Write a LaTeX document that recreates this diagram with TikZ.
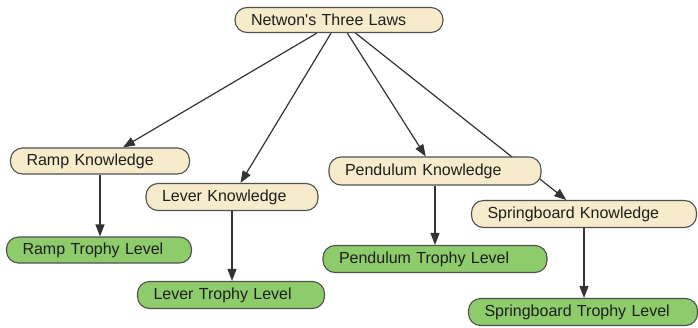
\documentclass[tikz,border=0pt]{standalone}
\usepackage{fontspec}
\setmainfont{Liberation Sans}
\usetikzlibrary{arrows.meta}
\pgfdeclarelayer{bg}
\pgfsetlayers{bg,main}
\definecolor{kfill}{HTML}{F6EBCB}
\definecolor{tfill}{HTML}{8DCB6B}
\definecolor{rim}{HTML}{505050}
\definecolor{wire}{HTML}{333333}
\definecolor{ink}{HTML}{1E1E1E}
\tikzset{
  pill/.style 2 args={draw=rim, line width=1.1pt, rounded corners=12pt,
    inner xsep=16pt, inner ysep=0pt, text width=#1pt-32pt, minimum height=#2pt,
    align=left, text=ink, font=\fontsize{16}{19}\selectfont},
  know/.style 2 args={pill={#1}{#2}, fill=kfill},
  trophy/.style 2 args={pill={#1}{#2}, fill=tfill},
  link/.style={draw=wire, line width=1.2pt,
    -{Triangle[length=12pt,width=9pt]}}
}
\begin{document}
\begin{tikzpicture}[x=1pt,y=-1pt]
  \useasboundingbox (0,0) rectangle (698,327);

  \node[know={208}{25}]   (laws)   at (339,20)  {Netwon\textquotesingle s Three Laws};
  \node[know={179}{26}]   (ramp)   at (100,161) {Ramp Knowledge};
  \node[know={172}{27}]   (lever)  at (232,197) {Lever Knowledge};
  \node[know={212}{28}]   (pend)   at (435,171) {Pendulum Knowledge};
  \node[know={225}{27}]   (spring) at (584,214) {Springboard Knowledge};

  \node[trophy={185}{26}] (rampT)   at (99,250)  {Ramp Trophy Level};
  \node[trophy={187}{27}] (leverT)  at (231,295) {Lever Trophy Level};
  \node[trophy={224}{27}] (pendT)   at (435,259) {Pendulum Trophy Level};
  \node[trophy={229}{27}] (springT) at (583,312) {Springboard Trophy Level};

  \begin{pgfonlayer}{bg}
    \draw[link] (laws) -- (ramp);
    \draw[link] (laws) -- (lever);
    \draw[link] (laws) -- (pend);
    \draw[link] (laws) -- (spring);
    \draw[link] (ramp.south)   -- (ramp.south   |- rampT.north);
    \draw[link] (lever.south)  -- (lever.south  |- leverT.north);
    \draw[link] (pend.south)   -- (pend.south   |- pendT.north);
    \draw[link] (spring.south) -- (spring.south |- springT.north);
  \end{pgfonlayer}
\end{tikzpicture}
\end{document}
